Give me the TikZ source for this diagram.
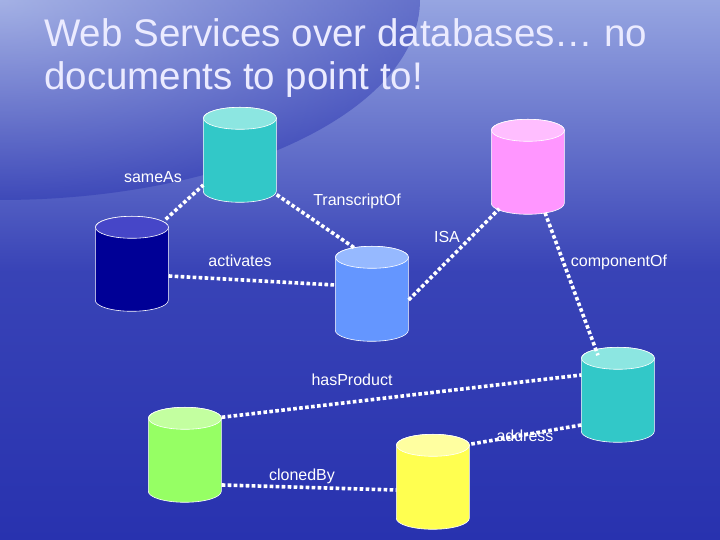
\documentclass[tikz,border=0pt]{standalone}
\usepackage{fontspec}
\setmainfont{Liberation Sans}

\definecolor{bgdark}{RGB}{40,50,175}
\definecolor{bglight}{RGB}{150,165,225}
\definecolor{tealbody}{RGB}{50,200,200}   \definecolor{tealtop}{RGB}{140,230,225}
\definecolor{navybody}{RGB}{0,0,150}      \definecolor{navytop}{RGB}{70,70,200}
\definecolor{pinkbody}{RGB}{255,150,255}  \definecolor{pinktop}{RGB}{255,190,255}
\definecolor{skybody}{RGB}{100,150,255}   \definecolor{skytop}{RGB}{150,185,255}
\definecolor{limebody}{RGB}{150,255,100}  \definecolor{limetop}{RGB}{195,255,160}
\definecolor{sunbody}{RGB}{255,255,80}    \definecolor{suntop}{RGB}{255,255,160}
\tikzset{
  dbbox/.style={minimum width=73pt, minimum height=95pt, inner sep=0pt},
  dbline/.style={draw=white, line width=0.6pt},
  link/.style={white, line width=3.6pt, dash pattern=on 3.6pt off 2.4pt},
  lbl/.style={text=white, font=\fontsize{16}{18}\selectfont}
}
% name, position, body colour, top colour
\newcommand\dbase[4]{%
  \node[dbbox] (#1) at (#2) {};
  \filldraw[dbline, fill=#3] (#1.north west) ++(0,-11) -- ++(0,-73)
     arc (180:360:36.5 and 11) -- ++(0,73) arc (0:180:36.5 and 11) -- cycle;
  \filldraw[dbline, fill=#4] (#1.north) ++(0,-11) ellipse (36.5 and 11);
}

\begin{document}
\begin{tikzpicture}[x=1pt,y=1pt]
 \useasboundingbox (0,0) rectangle (720,540);
 \begin{scope}
  \clip (0,0) rectangle (720,540);
  \shade[top color=bglight, bottom color=bgdark, middle color=bgdark!85!bglight] (0,0) rectangle (720,540);
  \shade[inner color=bglight!70!white, outer color=bgdark, opacity=0.45] (0,540) ellipse (420 and 200);
 \end{scope}

 % title
 \node[anchor=north west, text=white!92!blue, font=\fontsize{38.5}{43}\selectfont, align=left, inner sep=0pt]
   (title) at (44,522) {Web Services over databases\dots\ no\\documents to point to!};

 % databases
 \dbase{trans}{240,385}{tealbody}{tealtop}
 \dbase{gene}{132,276}{navybody}{navytop}
 \dbase{kind}{528,373}{pinkbody}{pinktop}
 \dbase{prot}{372,246}{skybody}{skytop}
 \dbase{part}{618,145}{tealbody}{tealtop}
 \dbase{clone}{185,85}{limebody}{limetop}
 \dbase{maker}{433,58}{sunbody}{suntop}

 % links
 \draw[link] ([xshift=-3pt,yshift=-3pt]gene.north east) -- ([yshift=-30pt]trans.west);
 \draw[link] ([yshift=8pt]trans.south east) -- ([xshift=-17pt,yshift=-2pt]prot.north);
 \draw[link] ([yshift=-6pt]prot.east) -- ([xshift=8pt,yshift=6pt]kind.south west);
 \draw[link] ([yshift=-12pt]gene.east) -- ([yshift=9pt]prot.west);
 \draw[link] ([xshift=17pt,yshift=2pt]kind.south) -- ([xshift=-20pt,yshift=-8pt]part.north);
 \draw[link] ([yshift=-10pt]clone.north east) -- ([yshift=20pt]part.west);
 \draw[link] ([yshift=-30pt]part.west) -- ([yshift=-10pt]maker.north east);
 \draw[link] ([yshift=-30pt]clone.east) -- ([yshift=-8pt]maker.west);

 % labels
 \node[lbl] (l1) at (153,363) {sameAs};
 \node[lbl] (l2) at (357,339) {TranscriptOf};
 \node[lbl] (l3) at (447,303) {ISA};
 \node[lbl] (l4) at (240,279) {activates};
 \node[lbl] (l5) at (619,278) {componentOf};
 \node[lbl] (l6) at (352,160) {hasProduct};
 \node[lbl] (l7) at (525,104) {address};
 \node[lbl] (l8) at (302,64) {clonedBy};
\end{tikzpicture}
\end{document}
